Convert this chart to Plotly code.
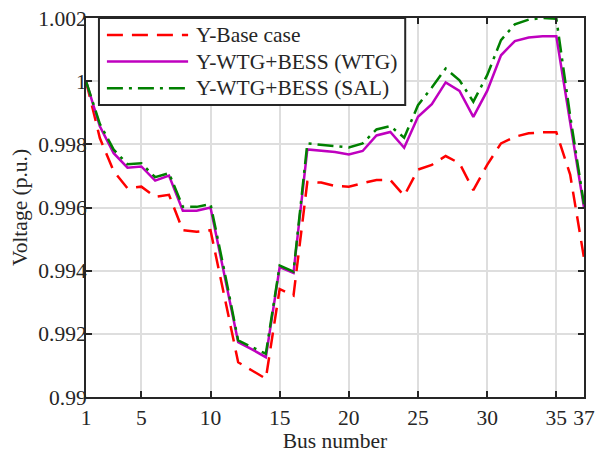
import plotly.graph_objects as go

bus = list(range(1, 38))

base_case = [1.0000, 0.9982, 0.99715, 0.99661, 0.99666, 0.99634, 0.99640, 0.99528, 0.99523, 0.99528,
             0.9932, 0.99110, 0.99084, 0.99058, 0.99342, 0.99321, 0.99681, 0.99679, 0.99668, 0.99666,
             0.99677, 0.99687, 0.99687, 0.99637, 0.99720, 0.99735, 0.99763, 0.99740, 0.99655, 0.99735,
             0.99803, 0.99824, 0.99835, 0.99838, 0.99838, 0.99704, 0.99440]

wtg = [1.0000, 0.99857, 0.99772, 0.99726, 0.99730, 0.99685, 0.99701, 0.99590, 0.99590, 0.99600,
       0.99387, 0.99174, 0.99151, 0.99126, 0.99411, 0.99393, 0.99784, 0.99779, 0.99776, 0.99768,
       0.99779, 0.99828, 0.99839, 0.99789, 0.99887, 0.99927, 0.99996, 0.99969, 0.99887, 0.99969,
       1.00082, 1.00127, 1.00138, 1.00142, 1.00142, 0.99870, 0.99600]

sal = [1.0000, 0.99865, 0.99783, 0.99737, 0.99740, 0.99696, 0.99709, 0.99602, 0.99602, 0.99611,
       0.99400, 0.99179, 0.99158, 0.99137, 0.99416, 0.99397, 0.99803, 0.99799, 0.99795, 0.99790,
       0.99803, 0.99847, 0.99858, 0.99821, 0.99924, 0.99980, 1.00040, 1.00003, 0.99935, 1.00019,
       1.00130, 1.00180, 1.00195, 1.00200, 1.00198, 0.99890, 0.99610]

x_ticks = [1, 5, 10, 15, 20, 25, 30, 35, 37]
y_ticks = [0.99, 0.992, 0.994, 0.996, 0.998, 1.0, 1.002]
y_ticktext = ["0.99", "0.992", "0.994", "0.996", "0.998", "1", "1.002"]
names = ["Y-Base case", "Y-WTG+BESS (WTG)", "Y-WTG+BESS (SAL)"]

FONT = "Liberation Serif"
FS = 21.5
DARK = "#262626"
styles = [
    dict(color="#FF0000", width=2.5, dash="16px,9px"),
    dict(color="#BF00BF", width=2.5, dash="solid"),
    dict(color="#008000", width=2.5, dash="16px,6px,3px,6px"),
]

fig = go.Figure()
for series, name, st in zip([base_case, wtg, sal], names, styles):
    fig.add_trace(go.Scatter(x=bus, y=series, mode="lines", name=name, line=st, showlegend=False))

axis_common = dict(
    showgrid=True, gridcolor="#dedede", gridwidth=1.5,
    ticks="inside", ticklen=6, tickwidth=1.5, tickcolor=DARK,
    showline=True, linecolor=DARK, linewidth=2, mirror="allticks",
    zeroline=False, automargin=False, ticklabeloverflow="allow",
    tickfont=dict(family=FONT, size=FS, color=DARK),
    title_font=dict(family=FONT, size=FS, color=DARK),
)

fig.update_xaxes(range=[1, 37], tickvals=x_ticks, title_text="Bus number", title_standoff=1, **axis_common)
fig.update_yaxes(range=[0.99, 1.002], tickvals=y_ticks, ticktext=y_ticktext, ticklabelstandoff=-7,
                 title_text="Voltage (p.u.)", title_standoff=5, **axis_common)

# manual legend (box, line samples, labels) in paper coordinates
shapes = [dict(type="rect", xref="paper", yref="paper", x0=0.026, x1=0.641, y0=0.7704, y1=1.0,
               fillcolor="white", line=dict(color=DARK, width=2), layer="above")]
leg_y = [0.955, 0.885, 0.8145]
annotations = []
for name, st, yy in zip(names, styles, leg_y):
    shapes.append(dict(type="line", xref="paper", yref="paper", x0=0.042, x1=0.205, y0=yy, y1=yy,
                       line=st, layer="above"))
    annotations.append(dict(xref="paper", yref="paper", x=0.217, y=yy, text=name, showarrow=False,
                            xanchor="left", yanchor="middle",
                            font=dict(family=FONT, size=FS, color=DARK)))

fig.update_layout(
    width=595, height=453,
    margin=dict(l=86, r=11, t=18, b=56),
    paper_bgcolor="white", plot_bgcolor="white",
    shapes=shapes, annotations=annotations,
    showlegend=False,
)

fig.write_html("out.html")
